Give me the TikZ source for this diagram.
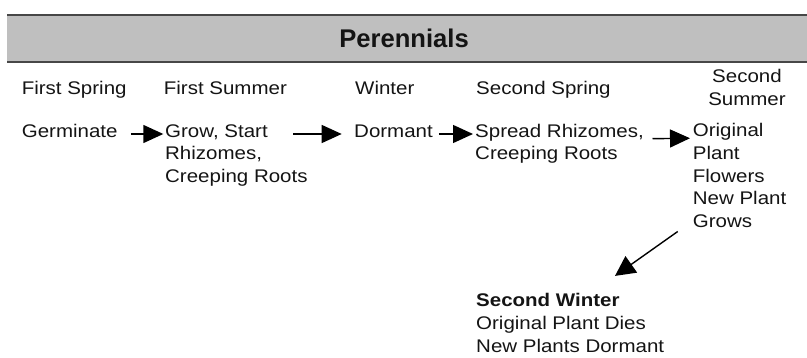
\documentclass[tikz,border=0pt]{standalone}
\usepackage{fontspec}
\setmainfont{Liberation Sans}[FakeStretch=1.12]
\newfontfamily\headfont{Liberation Sans}
\usepackage{tikz}
\usetikzlibrary{arrows.meta,calc,positioning}
\newcommand{\lignes}[2][l]{\begin{tabular}[t]{@{}#1@{}}#2\end{tabular}}

\begin{document}
\begin{tikzpicture}[
		x=1pt, y=-1pt,
		lbl/.style={anchor=base west, inner sep=0pt, text=black!92,
			font=\fontsize{18.3}{22.7}\selectfont},
		arr/.style={-{Triangle[length=20pt,width=18pt]}, line width=1.4pt},
		band/.style={draw=black!72, line width=1.4pt}
		]
	\useasboundingbox (0,0) rectangle (807,358);

		% Bandeau du haut
		\fill[black!25] (7,15) rectangle (807,62);
		\draw[band] (7,15) -- (807,15) (7,62) -- (807,62);
		\node[text=black!92, font=\headfont\bfseries\fontsize{25.6}{30}\selectfont] (T) at (404,38.5) {Perennials};
	
		% Saisons
		\node[lbl] (FSp) at (21.6,95) {First Spring};
		\node[lbl] (FSu) at (163.7,95) {First Summer};
		\node[lbl] (W) at (355,95) {Winter};
		\node[lbl] (SSp) at (476,95) {Second Spring};
		\node[lbl, anchor=base] (SSu) at (747,82.7) {\lignes[c]{Second\\Summer}};
	
		% Etapes
		\node[lbl] (G) at (21.7,137.3) {Germinate};
		\node[lbl] (R) at (165,137.3) {\lignes{Grow, Start\\Rhizomes,\\Creeping Roots}};
		\node[lbl] (D) at (354,137.3) {Dormant};
		\node[lbl] (S) at (475,137.3) {\lignes{Spread Rhizomes,\\Creeping Roots}};
		\node[lbl] (F) at (692.7,136.7) {\lignes{Original\\Plant\\Flowers\\New Plant\\Grows}};
		\node[lbl] (W2) at (476,307) {\lignes{\textbf{Second Winter}\\Original Plant Dies\\New Plants Dormant}};
	
		\draw[arr, shorten <=13pt, shorten >=1.7pt] ([yshift=3.3pt]G.base east) -- ([yshift=3.3pt]R.base west);
		\draw[arr, shorten >=12.3pt] ([xshift=128pt, yshift=3.3pt]R.base west) -- ([yshift=3.3pt]D.base west);
		\draw[arr, shorten <=6pt, shorten >=2pt] ([yshift=3.3pt]D.base east) -- ([yshift=3.3pt]S.base west);
		\draw[arr, shorten <=8.5pt, shorten >=2.7pt] ([yshift=-1.5pt]S.base east) -- ([yshift=-1.5pt]F.base west);
		\draw[arr, -{Triangle[length=20pt,width=20pt]}] ([xshift=-15pt, yshift=3pt]F.south west) -- ([xshift=139pt, yshift=15pt]W2.north west);
	\end{tikzpicture}
\end{document}
